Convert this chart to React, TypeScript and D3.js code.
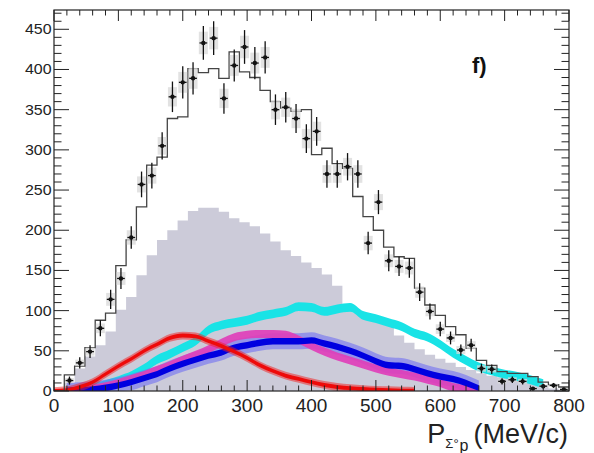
import React from 'react';
import * as d3 from 'd3';

// ---- data ----
const BIN_WIDTH = 16; // MeV/c
// data points per bin (bin centre = 8 + 16*i); null = no point
const dataCounts: (number | null)[] = [
  null, 13, 35, 49, 78, 114, 140, 191, 257, 268,
  305, 366, 384, 389, 433, 439, 364, 405, 428, 408,
  415, 350, 353, 339, 314, 323, 270, 270, 279, 270,
  184, 235, 162, 155, 153, 123, 99, 77, 66, 51,
  57, 28, 27, 12, 14, 12, 3, 6, 7, 2,
];
const dataStat: number[] = [
  0, 5, 7, 8, 10, 12, 13, 14, 16, 16,
  17, 19, 20, 20, 21, 21, 19, 20, 21, 20,
  20, 19, 19, 18, 18, 18, 17, 17, 17, 17,
  14, 15, 13, 12, 12, 11, 10, 9, 8, 7,
  8, 6, 6, 4, 4, 4, 2, 3, 3, 2,
];
const dataSyst: number[] = [
  0, 3, 4, 5, 6, 8, 8, 9, 10, 10,
  11, 12, 13, 13, 14, 14, 12, 13, 14, 13,
  13, 12, 12, 12, 12, 12, 11, 11, 11, 11,
  9, 10, 8, 8, 8, 7, 6, 6, 5, 5,
  5, 4, 4, 3, 3, 3, 1, 2, 2, 1,
];
// total simulation (open histogram)
const mcTotal: number[] = [
  0, 20, 31, 54, 88, 97, 156, 188, 229, 281,
  291, 339, 341, 401, 396, 401, 389, 422, 397, 390,
  374, 360, 352, 348, 350, 294, 302, 283, 277, 242,
  217, 200, 179, 167, 165, 128, 107, 94, 80, 70,
  53, 38, 32, 24, 22, 22, 18, 11, 8, 5,
];
// filled grey histogram
const mcGrey: number[] = [
  2, 10, 28, 43, 57, 74, 101, 117, 144, 169,
  188, 200, 212, 224, 228, 228, 223, 215, 210, 205,
  196, 186, 175, 168, 160, 153, 145, 131, 101, 97,
  93, 90, 82, 69, 60, 52, 45, 40, 35, 30,
  26, 22, 19, 17, 15, 14, 12, 7, 3, 1,
];

// coloured model bands, sampled on a 20 MeV/c grid
const bandGrid: number[] = [
  0, 20, 40, 60, 80, 100, 120, 140, 160, 180,
  200, 220, 240, 260, 280, 300, 320, 340, 360, 380,
  400, 420, 440, 460, 480, 500, 520, 540, 560, 580,
  600, 620, 640, 660, 680, 700, 720, 740, 760, 780, 800,
];
const redMean: (number | null)[] = [
  0, 1, 5, 11, 21, 31, 40, 50, 58, 66,
  69, 68, 62, 56, 49, 41, 32, 25, 19, 15,
  11, 7.5, 5, 3.5, 2.5, 1.5, 1, 0.5, 0.3, null,
  null, null, null, null, null, null, null, null, null, null, null,
];
const cyanMean: (number | null)[] = [
  null, null, 2, 4, 8, 13, 19, 28, 39, 46,
  54, 62, 76, 82, 85, 88, 93, 96, 99, 105,
  104, 99, 102, 104, 94, 90, 85, 80, 72, 67,
  58, 47, 38, 30, 25, 21, 18, 14, 9, null, null,
];
const magentaMean: (number | null)[] = [
  null, null, 1, 3, 6, 10, 15, 20, 26, 32,
  39, 45, 52, 60, 67, 70, 71, 71, 70, 64,
  56, 49, 43, 38, 33, 28, 24, 21, 18, 14,
  10, 5, 2, 0, null, null, null, null, null, null, null,
];
const blueMean: (number | null)[] = [
  null, 0.5, 1, 2, 4, 7, 11, 16, 21, 28,
  34, 39, 44, 48, 54, 57, 60, 62, 62, 62,
  63, 59, 55, 50, 44, 37, 32, 31, 27, 22,
  18, 15, 10, 3, null, null, null, null, null, null, null,
];
const RED_HALF = 4.8;
const CYAN_HALF = 5.5;
const MAGENTA_HALF = 5;
const BLUE_HALF = 4;
const BLUE_LIGHT_HALF = 10;

const xMajorTicks = [0, 100, 200, 300, 400, 500, 600, 700, 800];
const yMajorTicks = [0, 50, 100, 150, 200, 250, 300, 350, 400, 450];

// ---- layout ----
const W = 594;
const H = 453;
const L = 54, R = 569, T = 10, B = 391;

const x = d3.scaleLinear().domain([0, 800]).range([L, R]);
const y = d3.scaleLinear().domain([0, 474]).range([B, T]);

const FONT = "'Liberation Sans', Arial, Helvetica, sans-serif";

function stepPoints(vals: number[]): [number, number][] {
  const pts: [number, number][] = vals.map((v, i) => [i * BIN_WIDTH, v]);
  pts.push([vals.length * BIN_WIDTH, vals[vals.length - 1]]);
  return pts;
}

function bandPath(mean: (number | null)[], half: number): string {
  const pts = bandGrid
    .map((g, i) => ({ g, m: mean[i] }))
    .filter((d) => d.m !== null) as { g: number; m: number }[];
  const area = d3
    .area<{ g: number; m: number }>()
    .x((d) => x(d.g))
    .y0((d) => y(Math.max(0, d.m - half)))
    .y1((d) => y(d.m + half))
    .curve(d3.curveMonotoneX);
  return area(pts) || '';
}

export default function App() {
  const greyArea = d3
    .area<[number, number]>()
    .x((d) => x(d[0]))
    .y0(y(0))
    .y1((d) => y(d[1]))
    .curve(d3.curveStepAfter)(stepPoints(mcGrey)) || '';

  const totalLine = d3
    .line<[number, number]>()
    .x((d) => x(d[0]))
    .y((d) => y(d[1]))
    .curve(d3.curveStepAfter)(stepPoints(mcTotal)) || '';

  const xMinor = d3.range(0, 801, 20).filter((v) => v % 100 !== 0);
  const yMinor = d3.range(0, 474, 10).filter((v) => v % 50 !== 0);

  const points = dataCounts
    .map((c, i) => ({ c, i }))
    .filter((d) => d.c !== null) as { c: number; i: number }[];

  return (
    <svg
      width={W}
      height={H}
      style={{ position: 'absolute', left: 0, top: 0, background: '#fff' }}
      fontFamily={FONT}
    >
      <defs>
        <clipPath id="plotClip">
          <rect x={L} y={T} width={R - L} height={B - T} />
        </clipPath>
      </defs>
      <rect x={0} y={0} width={W} height={H} fill="#fff" />

      <g clipPath="url(#plotClip)">
        <path d={greyArea} fill="#cccbd9" stroke="none" />

        {/* model bands */}
        <path d={bandPath(cyanMean, CYAN_HALF)} fill="#19e3e6" />
        <path d={bandPath(blueMean, BLUE_LIGHT_HALF)} fill="#7070f2" opacity={0.6} />
        <path d={bandPath(magentaMean, MAGENTA_HALF)} fill="#e03cb8" opacity={0.9} />
        <path d={bandPath(blueMean, BLUE_HALF)} fill="#0000e0" />
        <path d={bandPath(redMean, RED_HALF)} fill="#f21d1d" opacity={0.5} />
        <path d={bandPath(redMean, RED_HALF * 0.5)} fill="#ee0a0a" />

        {/* total simulation histogram */}
        <path d={totalLine} fill="none" stroke="#444" strokeWidth={1.3} />

        {/* systematic boxes */}
        {points.map(({ c, i }) => {
          const cx = i * BIN_WIDTH + BIN_WIDTH / 2;
          return (
            <rect
              key={'s' + i}
              x={x(cx - 7)}
              width={x(cx + 7) - x(cx - 7)}
              y={y(c + dataSyst[i])}
              height={y(c - dataSyst[i]) - y(c + dataSyst[i])}
              fill="#d8d8d8"
              opacity={0.75}
            />
          );
        })}
        {/* data points */}
        {points.map(({ c, i }) => {
          const cx = i * BIN_WIDTH + BIN_WIDTH / 2;
          return (
            <g key={'p' + i} stroke="#111" strokeWidth={1.3}>
              <line x1={x(cx)} x2={x(cx)} y1={y(c + dataStat[i])} y2={y(Math.max(0, c - dataStat[i]))} />
              <line x1={x(cx - 6)} x2={x(cx + 6)} y1={y(c)} y2={y(c)} />
              <circle cx={x(cx)} cy={y(c)} r={2.2} fill="#111" stroke="none" />
            </g>
          );
        })}
      </g>

      {/* frame */}
      <rect x={L} y={T} width={R - L} height={B - T} fill="none" stroke="#222" strokeWidth={1.2} />

      {/* ticks */}
      <g stroke="#222" strokeWidth={1}>
        {xMajorTicks.map((v) => (
          <g key={'xm' + v}>
            <line x1={x(v)} x2={x(v)} y1={B} y2={B - 11} />
            <line x1={x(v)} x2={x(v)} y1={T} y2={T + 11} />
          </g>
        ))}
        {xMinor.map((v) => (
          <g key={'xn' + v}>
            <line x1={x(v)} x2={x(v)} y1={B} y2={B - 5.5} />
            <line x1={x(v)} x2={x(v)} y1={T} y2={T + 5.5} />
          </g>
        ))}
        {yMajorTicks.map((v) => (
          <g key={'ym' + v}>
            <line x1={L} x2={L + 15} y1={y(v)} y2={y(v)} />
            <line x1={R} x2={R - 15} y1={y(v)} y2={y(v)} />
          </g>
        ))}
        {yMinor.map((v) => (
          <g key={'yn' + v}>
            <line x1={L} x2={L + 7.5} y1={y(v)} y2={y(v)} />
            <line x1={R} x2={R - 7.5} y1={y(v)} y2={y(v)} />
          </g>
        ))}
      </g>

      {/* tick labels */}
      {xMajorTicks.map((v) => (
        <text key={'xl' + v} x={x(v)} y={412} fontSize={19} textAnchor="middle" fill="#222">
          {v}
        </text>
      ))}
      {yMajorTicks.map((v) => (
        <g key={'yl' + v} transform={`translate(51.5,${y(v) + 5}) scale(1.14,1)`}>
          <text x={0} y={0} fontSize={14} textAnchor="end" fill="#222">
            {v}
          </text>
        </g>
      ))}

      {/* axis title */}
      <text x={568} y={443} textAnchor="end" fill="#222" fontSize={27}>
        P
        <tspan fontSize={13} dy={5}>Σ°</tspan>
        <tspan fontSize={16} dy={3} dx={1}>p</tspan>
        <tspan fontSize={27} dy={-8} dx={5}>(MeV/c)</tspan>
      </text>

      {/* panel label */}
      <text x={472} y={73} fontSize={22} fontWeight="bold" fill="#111">
        f)
      </text>
    </svg>
  );
}
